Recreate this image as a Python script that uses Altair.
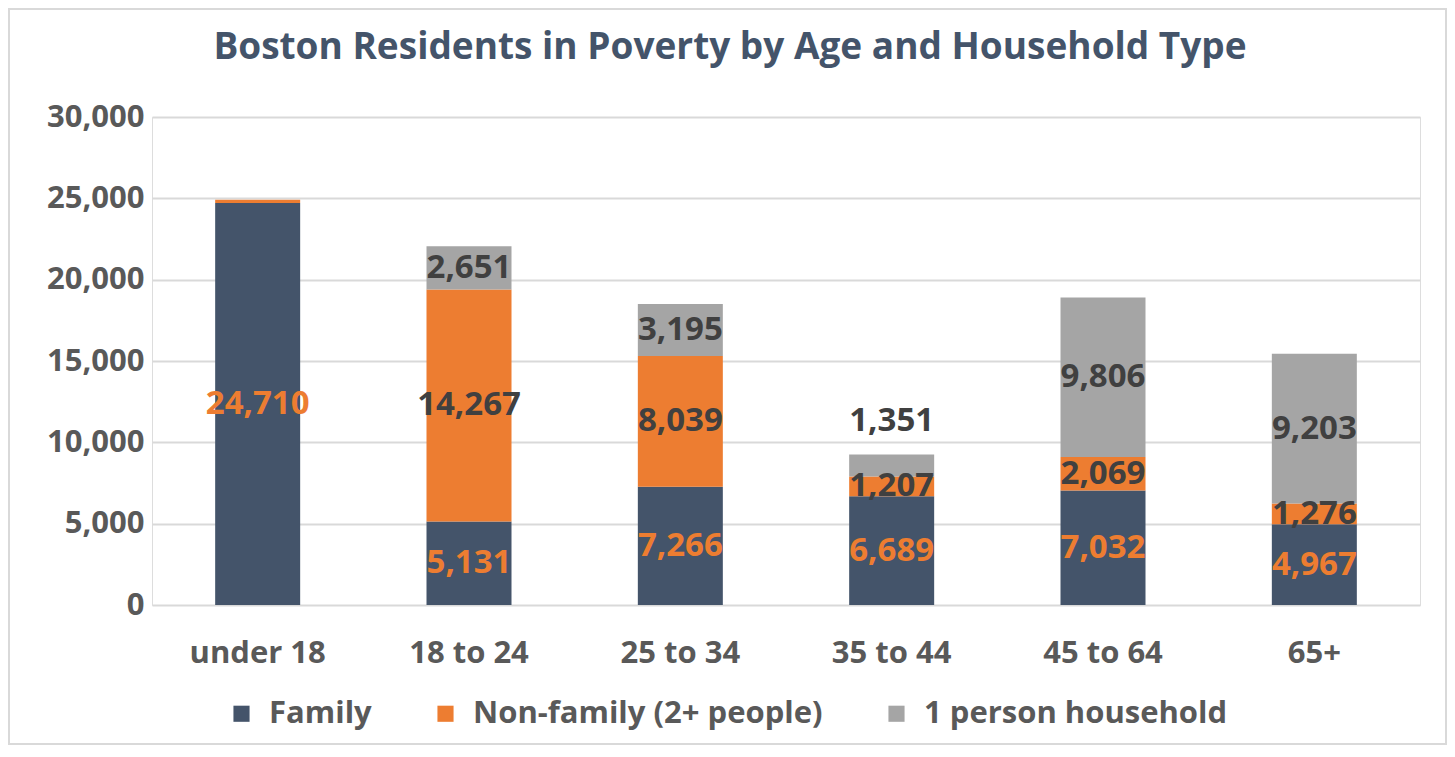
import altair as alt
import pandas as pd

title_text = "Boston Residents in Poverty by Age and Household Type"
ages = ["under 18", "18 to 24", "25 to 34", "35 to 44", "45 to 64", "65+"]
types = ["Family", "Non-family (2+ people)", "1 person household"]
family = [24710, 5131, 7266, 6689, 7032, 4967]
nonfamily = [200, 14267, 8039, 1207, 2069, 1276]
oneperson = [0, 2651, 3195, 1351, 9806, 9203]
colors = ["#44546A", "#ED7D31", "#A5A5A5"]
label_colors = ["#ED7D31", "#404040", "#404040"]
# label for 35 to 44 / 1 person sits above the bar in the original
label_override = {("35 to 44", "1 person household"): 11300}

rows = []
for i, a in enumerate(ages):
    for j, (t, vals) in enumerate(zip(types, [family, nonfamily, oneperson])):
        rows.append({"age": a, "type": t, "value": vals[i], "order": j,
                     "lcolor": label_colors[j],
                     "override": label_override.get((a, t), -1)})
df = pd.DataFrame(rows)

FONT = "Open Sans"
yscale = alt.Scale(domain=[0, 30000], nice=False)
xaxis = alt.Axis(labelAngle=0, labelFontSize=31, labelFontWeight="bold",
                 labelColor="#595959", labelFont=FONT, labelPadding=33,
                 ticks=False, domain=False, title=None)
yaxis = alt.Axis(values=[0, 5000, 10000, 15000, 20000, 25000, 30000],
                 format=",d", labelFontSize=31, labelFontWeight="bold",
                 labelColor="#595959", labelFont=FONT, labelPadding=8,
                 ticks=False, domain=False, gridColor="#D9D9D9",
                 gridWidth=2, title=None)

bars = alt.Chart(df).mark_bar(size=85).encode(
    x=alt.X("age:N", sort=ages, axis=xaxis),
    y=alt.Y("value:Q", stack="zero", scale=yscale, axis=yaxis),
    color=alt.Color("type:N", sort=types,
                    scale=alt.Scale(domain=types, range=colors),
                    legend=alt.Legend(title=None, orient="none", direction="horizontal",
                                      legendX=74, legendY=581, labelFontSize=31,
                                      labelFont=FONT, labelFontWeight="bold",
                                      labelColor="#595959", symbolType="square",
                                      symbolSize=260, symbolStrokeWidth=0,
                                      columnPadding=58, labelOffset=12,
                                      labelLimit=0)),
    order=alt.Order("order:Q"),
)

labels = alt.Chart(df).transform_stack(
    stack="value", groupby=["age"], sort=[alt.SortField("order")], as_=["v0", "v1"]
).transform_calculate(
    mid="datum.override > 0 ? datum.override : (datum.v0 + datum.v1) / 2"
).transform_filter("datum.value > 500").mark_text(
    fontSize=33, fontWeight="bold", font=FONT, baseline="middle"
).encode(
    x=alt.X("age:N", sort=ages, axis=xaxis),
    y=alt.Y("mid:Q", scale=yscale, axis=yaxis),
    text=alt.Text("value:Q", format=","),
    color=alt.Color("lcolor:N", scale=None),
)

frame = alt.Chart(pd.DataFrame({"f": [0]})).mark_rect(
    fillOpacity=0, stroke="#D9D9D9", strokeWidth=2
).encode(x=alt.value(-143), x2=alt.value(1294), y=alt.value(-108), y2=alt.value(627))

title = alt.Chart(pd.DataFrame({"t": [title_text]})).mark_text(
    fontSize=37, font=FONT, fontWeight="bold", color="#44546A",
    align="center", baseline="middle"
).encode(x=alt.value(578), y=alt.value(-69), text="t:N")

chart = alt.layer(frame, bars, labels, title).properties(
    width=1268, height=488,
    autosize=alt.AutoSizeParams(type="none"),
    padding={"left": 144, "top": 109, "right": 27, "bottom": 140},
).configure_view(strokeWidth=0).configure(background="white")

chart.save("out.html", embed_options={"renderer": "svg", "actions": False})
